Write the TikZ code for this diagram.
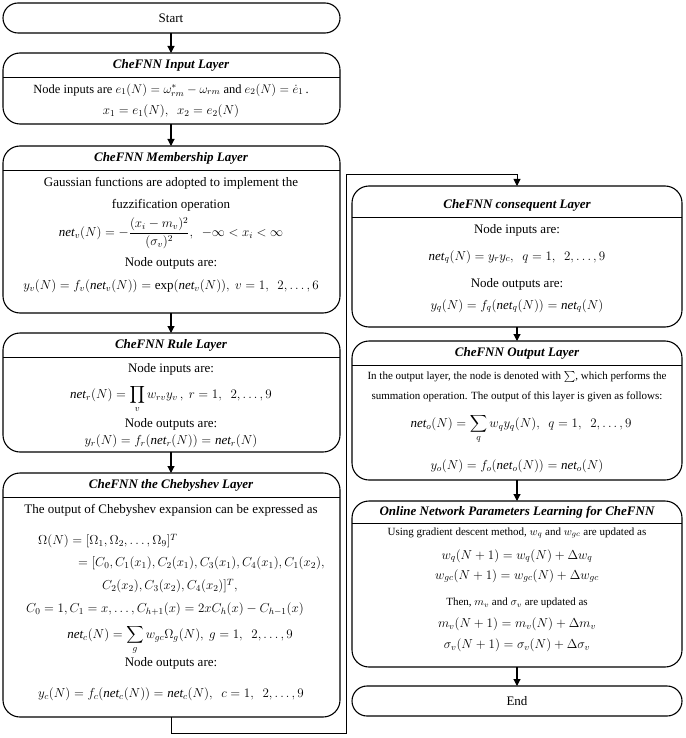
\RequirePackage{fix-cm}
\documentclass[tikz,border=0pt]{standalone}
\usepackage{amsmath}
\usepackage{fontspec}
\setmainfont{Liberation Serif}
\usetikzlibrary{arrows.meta}
\newcommand{\nt}{\textit{net}}
\begin{document}
\begin{tikzpicture}[x=1pt,y=-1pt,
  txt/.style={font=\fontsize{13}{15}\selectfont, inner sep=0pt, anchor=center},
  mtxt/.style={font=\fontsize{12.5}{14}\selectfont, inner sep=0pt, anchor=center},
  stxt/.style={font=\fontsize{11}{13}\selectfont, inner sep=0pt, anchor=center},
  ttl/.style={font=\fontsize{13}{15}\selectfont\bfseries\itshape, inner sep=0pt},
  lay/.style={draw, line width=1.1pt, rounded corners=17pt},
  term/.style={draw, line width=1.1pt, rounded corners=15pt},
  hdr/.style={line width=0.9pt},
  arr/.style={-{Triangle[length=7pt,width=7pt]}, line width=1.1pt}]
\useasboundingbox (0,0) rectangle (685,738);
% left column
\draw[term] (3,3) rectangle (340,33);
\node[txt] (start) at (171,18) {Start};
\coordinate (startB) at (171,33);
% input
\draw[lay] (3,53) rectangle (340,124);
\draw[hdr] (3,77) -- (340,77);
\coordinate (inT) at (171,53); \coordinate (inB) at (171,124);
\node[ttl] (inttl) at (171,65) {CheFNN Input Layer};
\node[mtxt] (in1) at (171,90) {Node inputs are $e_1(N)=\omega^*_{rm}-\omega_{rm}$ and $e_2(N)=\dot e_1$\,.};
\node[txt] (in2) at (171,111) {$x_1=e_1(N),\ \ x_2=e_2(N)$};
% membership
\draw[lay] (3,146) rectangle (340,313);
\draw[hdr] (3,170) -- (340,170);
\coordinate (meT) at (171,146); \coordinate (meB) at (171,313);
\node[ttl] (mettl) at (171,158) {CheFNN Membership Layer};
\node[txt] (me1) at (171,183) {Gaussian functions are adopted to implement the};
\node[txt] (me2) at (171,205) {fuzzification operation};
\node[txt] (me3) at (171,233) {$\nt_v(N)=-\dfrac{(x_i-m_v)^2}{(\sigma_v)^2},\ \ -\infty<x_i<\infty$};
\node[txt] (me4) at (171,263) {Node outputs are:};
\node[txt] (me5) at (171,286) {$y_v(N)=f_v(\nt_v(N))=\exp(\nt_v(N)),\ v=1,\ \ 2,\ldots,6$};
% rule
\draw[lay] (3,333) rectangle (340,452);
\draw[hdr] (3,357) -- (340,357);
\coordinate (ruT) at (171,333); \coordinate (ruB) at (171,452);
\node[ttl] (ruttl) at (171,345) {CheFNN Rule Layer};
\node[txt] (ru1) at (171,369) {Node inputs are:};
\node[txt] (ru2) at (171,399) {$\nt_r(N)=\displaystyle\prod_v w_{rv}y_v\,,\ r=1,\ \ 2,\ldots,9$};
\node[txt] (ru3) at (171,424) {Node outputs are:};
\node[txt] (ru4) at (171,441) {$y_r(N)=f_r(\nt_r(N))=\nt_r(N)$};
% chebyshev
\draw[lay] (3,473) rectangle (340,717);
\draw[hdr] (3,497) -- (340,497);
\coordinate (chT) at (171,473); \coordinate (chB) at (171,717);
\node[ttl] (chttl) at (171,485) {CheFNN the Chebyshev Layer};
\node[txt] (ch1) at (171,510) {The output of Chebyshev expansion can be expressed as};
\node[txt,anchor=west] (ch2) at (38,541) {$\Omega(N)=[\Omega_1,\Omega_2,\ldots,\Omega_9]^T$};
\node[txt,anchor=west] (ch3) at (78,563) {$=[C_0,C_1(x_1),C_2(x_1),C_3(x_1),C_4(x_1),C_1(x_2),$};
\node[txt,anchor=west] (ch4) at (102,586) {$C_2(x_2),C_3(x_2),C_4(x_2)]^T,$};
\node[txt] (ch5) at (165,609) {$C_0=1,C_1=x,\ldots,C_{h+1}(x)=2xC_h(x)-C_{h-1}(x)$};
\node[txt] (ch6) at (180,640) {$\nt_c(N)=\displaystyle\sum_g w_{gc}\Omega_g(N),\ g=1,\ \ 2,\ldots,9$};
\node[txt] (ch7) at (171,663) {Node outputs are:};
\node[txt] (ch8) at (171,694) {$y_c(N)=f_c(\nt_c(N))=\nt_c(N),\ \ c=1,\ \ 2,\ldots,9$};
% right column
% consequent
\draw[lay] (352,186) rectangle (682,327);
\draw[hdr] (352,217) -- (682,217);
\coordinate (coT) at (517,186); \coordinate (coB) at (517,327);
\node[ttl] (cottl) at (517,205) {CheFNN consequent Layer};
\node[txt] (co1) at (517,230) {Node inputs are:};
\node[txt] (co2) at (517,257) {$\nt_q(N)=y_ry_c,\ \ q=1,\ \ 2,\ldots,9$};
\node[txt] (co3) at (517,284) {Node outputs are:};
\node[txt] (co4) at (517,306) {$y_q(N)=f_q(\nt_q(N))=\nt_q(N)$};
% output
\draw[lay] (352,341) rectangle (682,480);
\draw[hdr] (352,365) -- (682,365);
\coordinate (ouT) at (517,341); \coordinate (ouB) at (517,480);
\node[ttl] (outtl) at (517,353) {CheFNN Output Layer};
\node[stxt] (ou1) at (517,377) {In the output layer, the node is denoted with $\sum$, which performs the};
\node[stxt] (ou2) at (517,397) {summation operation. The output of this layer is given as follows:};
\node[txt] (ou3) at (521,429) {$\nt_o(N)=\displaystyle\sum_q w_qy_q(N),\ \ q=1,\ \ 2,\ldots,9$};
\node[txt] (ou4) at (517,466) {$y_o(N)=f_o(\nt_o(N))=\nt_o(N)$};
% online
\draw[lay] (352,501) rectangle (682,667);
\draw[hdr] (352,523) -- (682,523);
\coordinate (onT) at (517,501); \coordinate (onB) at (517,667);
\node[ttl] (onttl) at (517,512) {Online Network Parameters Learning for CheFNN};
\node[stxt] (on1) at (517,533) {Using gradient descent method, $w_q$ and $w_{gc}$ are updated as};
\node[txt] (on2) at (517,556) {$w_q(N+1)=w_q(N)+\Delta w_q$};
\node[txt] (on3) at (517,576) {$w_{gc}(N+1)=w_{gc}(N)+\Delta w_{gc}$};
\node[stxt] (on4) at (517,603) {Then, $m_v$ and $\sigma_v$ are updated as};
\node[txt] (on5) at (517,624) {$m_v(N+1)=m_v(N)+\Delta m_v$};
\node[txt] (on6) at (517,645) {$\sigma_v(N+1)=\sigma_v(N)+\Delta\sigma_v$};
% end
\draw[term] (352,686) rectangle (682,716);
\node[txt] (endn) at (517,701) {End};
\coordinate (endT) at (517,686);
% connectors
\draw[arr] (startB) -- (inT);
\draw[arr] (inB) -- (meT);
\draw[arr] (meB) -- (ruT);
\draw[arr] (ruB) -- (chT);
\coordinate (c1) at (171,733); \coordinate (c2) at (346,733);
\coordinate (c3) at (346,174); \coordinate (c4) at (517,174);
\draw[arr,line width=0.9pt] (chB) -- (c1) -- (c2) -- (c3) -- (c4) -- (coT);
\draw[arr] (coB) -- (ouT);
\draw[arr] (ouB) -- (onT);
\draw[arr] (onB) -- (endT);
\end{tikzpicture}
\end{document}
